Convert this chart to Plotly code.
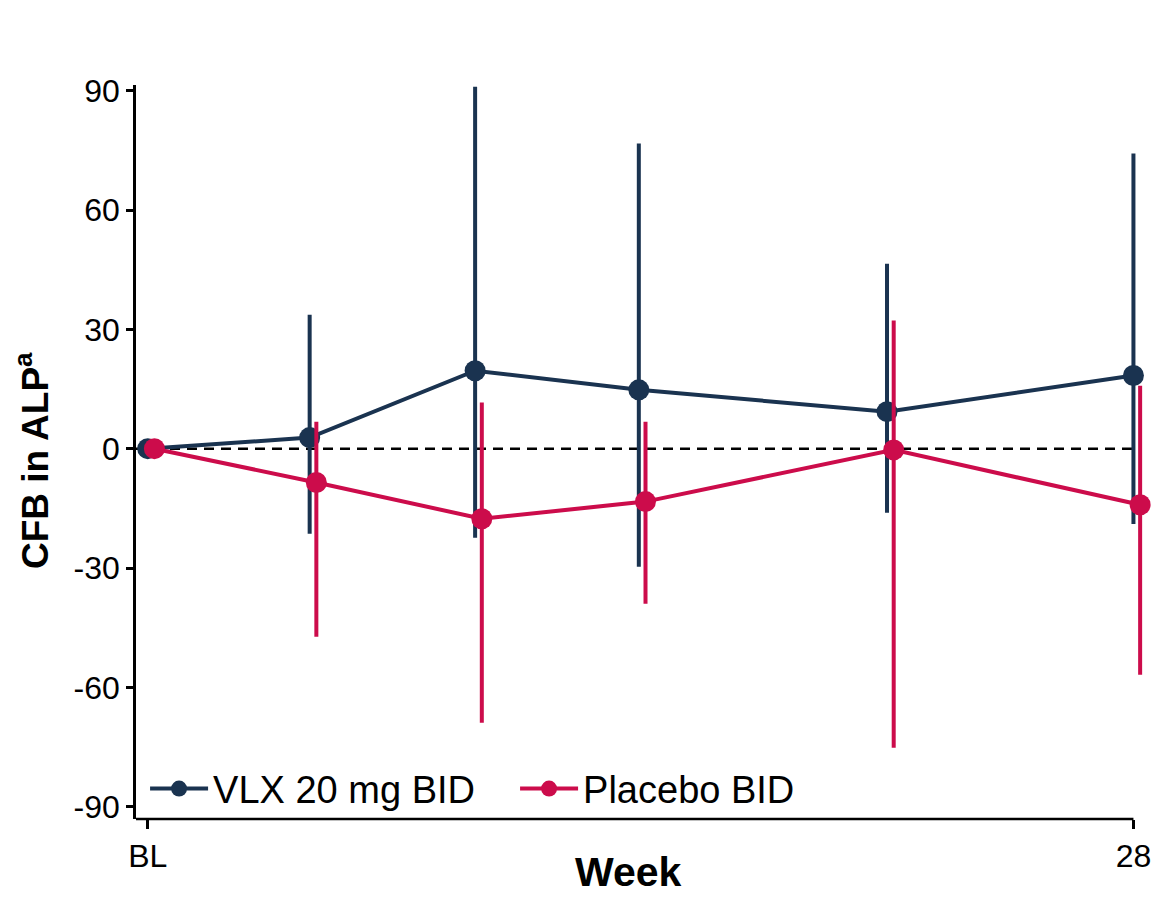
import plotly.graph_objects as go

# ---- data ----
weeks_vlx = [0, 4.6, 9.3, 13.95, 21, 28]
dodge = 0.19
weeks_pbo = [w + dodge for w in weeks_vlx]

vlx_mean = [0, 2.8, 19.6, 14.8, 9.3, 18.4]
vlx_upper = [0, 33.7, 91.0, 76.7, 46.5, 74.2]
vlx_lower = [0, -21.4, -22.4, -29.7, -16.1, -18.9]

pbo_mean = [0, -8.5, -17.6, -13.3, -0.3, -14.1]
pbo_upper = [0, 6.8, 11.6, 6.8, 32.2, 15.8]
pbo_lower = [0, -47.3, -68.9, -39.0, -75.2, -56.8]

y_ticks = [-90, -60, -30, 0, 30, 60, 90]
y_ticktext = ["-90", "-60", "-30", "0", "30", "60", "90"]
x_tickvals = [0, 28]
x_ticktext = ["BL", "28"]

NAVY = "#1A3350"
RED = "#CC0C4B"
FONT = "Liberation Sans, Arial, sans-serif"

fig = go.Figure()

def add_series(x, m, up, lo, color, name):
    fig.add_trace(go.Scatter(
        x=x, y=m, mode="lines+markers", name=name,
        line=dict(color=color, width=4),
        marker=dict(color=color, size=21),
        error_y=dict(type="data", symmetric=False,
                     array=[u - v for u, v in zip(up, m)],
                     arrayminus=[v - l for v, l in zip(m, lo)],
                     color=color, thickness=4, width=0),
        cliponaxis=False,
    ))

add_series(weeks_vlx, vlx_mean, vlx_upper, vlx_lower, NAVY, "VLX 20 mg BID")
add_series(weeks_pbo, pbo_mean, pbo_upper, pbo_lower, RED, "Placebo BID")

x_lo, x_hi = -0.333, 28.3
# zero reference line
fig.add_shape(type="line", xref="x", yref="y", x0=x_lo, x1=28, y0=0, y1=0,
              line=dict(color="black", width=2.6, dash="10px,7px"), layer="below")
# x axis line (ends at the 28 tick)
fig.add_shape(type="line", xref="x", yref="paper", x0=x_lo, x1=28, y0=0, y1=0,
              line=dict(color="black", width=2.6), layer="above")

# axis titles
fig.add_annotation(text="<b>Week</b>", xref="paper", yref="paper",
                   x=0.489, y=-0.1050, xanchor="center", yanchor="bottom", borderpad=0,
                   showarrow=False, font=dict(size=41, family=FONT, color="black"))
fig.add_annotation(text="<b>CFB in ALP<sup>a</sup></b>", xref="paper", yref="paper",
                   x=-0.102, y=0.488, xanchor="center", yanchor="middle", textangle=-90,
                   showarrow=False, font=dict(size=37, family=FONT, color="black"))

fig.update_layout(
    width=1155, height=897,
    margin=dict(l=136, r=11, t=85, b=78),
    paper_bgcolor="white", plot_bgcolor="white",
    font=dict(family=FONT, color="black"),
    showlegend=True,
    legend=dict(orientation="h", x=0.009, xanchor="left", y=0.041, yanchor="middle",
                font=dict(size=38, family=FONT, color="black"),
                bgcolor="rgba(0,0,0,0)", itemwidth=58,
                entrywidth=297, entrywidthmode="pixels"),
    xaxis=dict(range=[x_lo, x_hi], tickmode="array", tickvals=x_tickvals, ticktext=x_ticktext,
               showgrid=False, zeroline=False, showline=False, automargin=False,
               ticks="outside", ticklen=9, tickwidth=2.5, tickcolor="black",
               tickfont=dict(size=32, family=FONT)),
    yaxis=dict(range=[-93.09, 91.43], tickmode="array", tickvals=y_ticks, ticktext=y_ticktext,
               showgrid=False, zeroline=False, showline=True, linecolor="black", linewidth=2.6,
               automargin=False,
               ticks="outside", ticklen=7, tickwidth=2.5, tickcolor="black",
               tickfont=dict(size=32, family=FONT)),
)

fig.write_html("out.html")
